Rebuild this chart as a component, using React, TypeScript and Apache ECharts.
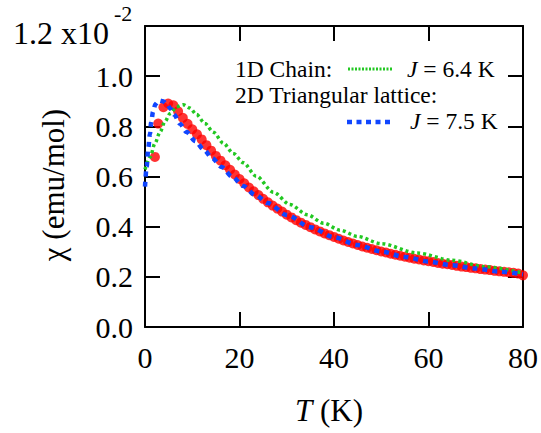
import React, { useEffect, useRef } from "react";
import * as echarts from "echarts";

// Axis ticks
const xTicks = [0, 20, 40, 60, 80];
const yTicks = [0, 0.2, 0.4, 0.6, 0.8, 1.0, 1.2];

// Experimental data (red dots): T (K), chi (x10^-2 emu/mol)
const expT = [2.1, 2.8, 3.9, 4.9, 6, 7, 8, 9, 10, 11, 12, 13, 14, 15, 16, 17, 18, 19, 20,
  21, 22, 23, 24, 25, 26, 27, 28, 29, 30, 31, 32, 33, 34, 35, 36, 37, 38, 39, 40,
  41, 42, 43, 44, 45, 46, 47, 48, 49, 50, 51, 52, 53, 54, 55, 56, 57, 58, 59, 60,
  61, 62, 63, 64, 65, 66, 67, 68, 69, 70, 71, 72, 73, 74, 75, 76, 77, 78, 79, 80];
const expChi = [0.678, 0.811, 0.876, 0.891, 0.884, 0.86, 0.834, 0.81, 0.788, 0.768, 0.748, 0.725, 0.703, 0.682, 0.663, 0.645, 0.627, 0.608, 0.59,
  0.573, 0.556, 0.541, 0.526, 0.511, 0.497, 0.484, 0.472, 0.46, 0.448, 0.437, 0.426, 0.416, 0.407, 0.398, 0.389, 0.381, 0.373, 0.366, 0.359,
  0.352, 0.345, 0.339, 0.333, 0.327, 0.321, 0.316, 0.311, 0.306, 0.301, 0.297, 0.292, 0.288, 0.284, 0.28, 0.276, 0.272, 0.269, 0.265, 0.262,
  0.259, 0.255, 0.252, 0.25, 0.247, 0.244, 0.241, 0.239, 0.236, 0.234, 0.231, 0.229, 0.227, 0.224, 0.222, 0.22, 0.218, 0.216, 0.213, 0.206];

// 1D chain model, J = 6.4 K (green dotted)
const chainT = [0, 1.1, 2.1, 3.2, 4.2, 5.3, 6.7, 8.1, 9.5, 10.9, 12.7, 14.5, 16.6, 18.7, 20.8, 23.5, 27.2, 30.7, 34.3, 37.8, 41.3, 45, 50, 57.6, 65, 72, 80];
const chainChi = [0.628, 0.678, 0.732, 0.778, 0.818, 0.851, 0.878, 0.886, 0.873, 0.847, 0.811, 0.776, 0.732, 0.692, 0.655, 0.602, 0.537, 0.488, 0.448, 0.414, 0.386, 0.361, 0.332, 0.295, 0.266, 0.24, 0.215];

// 2D triangular lattice model, J = 7.5 K (blue dashed)
const triT = [0, 0.35, 0.7, 1.05, 1.3, 1.7, 2.2, 3.0, 3.8, 4.6, 5.4, 6.2, 7.4, 8.8, 10.6, 12.4, 14.2, 16.2, 18.4, 20.8, 23.3, 26, 30, 35, 40, 45, 50, 55, 60, 65, 70, 75, 80];
const triChi = [0.56, 0.64, 0.715, 0.77, 0.815, 0.858, 0.888, 0.903, 0.9, 0.89, 0.87, 0.846, 0.81, 0.777, 0.742, 0.708, 0.674, 0.638, 0.6, 0.562, 0.527, 0.494, 0.447, 0.398, 0.358, 0.327, 0.301, 0.279, 0.261, 0.246, 0.233, 0.221, 0.21];

const SERIF = "Liberation Serif";
const RED = "#ff0000";
const GREEN = "#22c822";
const BLUE = "#1046ff";

export default function App() {
  const ref = useRef<HTMLDivElement>(null);
  useEffect(() => {
    document.body.style.margin = "0";
    const chart = echarts.init(ref.current!, null, { renderer: "svg" });
    const axisLine = { show: true, onZero: false, lineStyle: { color: "#000", width: 2 } };
    const tick = { show: true, inside: true, length: 15, lineStyle: { color: "#000", width: 2 } };
    const xMin = xTicks[0], xMax = xTicks[xTicks.length - 1];
    const yMin = yTicks[0], yMax = yTicks[yTicks.length - 1];
    const txt = (size: number, extra: any = {}) => ({ fontFamily: SERIF, fontSize: size, fill: "#000", ...extra });
    const option: any = {
      animation: false,
      grid: { left: 145, right: 18, top: 26, bottom: 106, containLabel: false, outerBoundsMode: "none" },
      xAxis: [
        {
          type: "value", min: xMin, max: xMax, interval: 20, position: "bottom",
          axisLine, axisTick: tick, splitLine: { show: false },
          axisLabel: { color: "#000", fontFamily: SERIF, fontSize: 30, margin: 15 },
        },
        {
          type: "value", min: xMin, max: xMax, interval: 20, position: "top",
          axisLine, axisTick: tick, splitLine: { show: false }, axisLabel: { show: false },
        },
      ],
      yAxis: [
        {
          type: "value", min: yMin, max: yMax, interval: 0.2, position: "left",
          axisLine, axisTick: tick, splitLine: { show: false },
          axisLabel: {
            color: "#000", fontFamily: SERIF, fontSize: 30, margin: 12,
            formatter: (v: number) => (v > 1.15 ? "" : v.toFixed(1)),
          },
        },
        {
          type: "value", min: yMin, max: yMax, interval: 0.2, position: "right",
          axisLine, axisTick: tick, splitLine: { show: false }, axisLabel: { show: false },
        },
      ],
      series: [
        {
          type: "scatter", name: "exp",
          data: expT.map((t, i) => [t, expChi[i]]),
          symbol: "circle", symbolSize: 10,
          itemStyle: { color: RED }, z: 2,
        },
        {
          type: "line", name: "1D chain",
          data: chainT.map((t, i) => [t, chainChi[i]]),
          showSymbol: false, smooth: 0.3, smoothMonotone: "x",
          lineStyle: { color: GREEN, width: 3.5, type: [3, 3] }, z: 3,
        },
        {
          type: "line", name: "2D triangular",
          data: triT.map((t, i) => [t, triChi[i]]),
          showSymbol: false, smooth: 0.3, smoothMonotone: "x",
          lineStyle: { color: BLUE, width: 4.5, type: [5, 5] }, z: 4,
        },
      ],
      graphic: [
        { type: "text", x: 13, y: 33, style: txt(32, { text: "1.2 x10", verticalAlign: "middle" }) },
        { type: "text", x: 114, y: 13, style: txt(22, { text: "-2", verticalAlign: "middle" }) },
        {
          type: "text", x: 53, y: 185, rotation: Math.PI / 2,
          style: txt(31, { text: "χ (emu/mol)", align: "center", verticalAlign: "middle" }),
        },
        {
          type: "text", x: 329, y: 410,
          style: txt(31, {
            text: "{i|T} (K)", align: "center", verticalAlign: "middle",
            rich: { i: { fontFamily: SERIF, fontStyle: "italic", fontSize: 31 } },
          }),
        },
        { type: "text", x: 235, y: 69, style: txt(23.5, { text: "1D Chain:", verticalAlign: "middle" }) },
        { type: "line", shape: { x1: 348, y1: 69, x2: 393, y2: 69 }, style: { stroke: GREEN, lineWidth: 3, lineDash: [2, 1.5] } },
        {
          type: "text", x: 407, y: 69,
          style: txt(23.5, {
            text: "{i|J} = 6.4 K", verticalAlign: "middle",
            rich: { i: { fontFamily: SERIF, fontStyle: "italic", fontSize: 23.5 } },
          }),
        },
        { type: "text", x: 235, y: 95, style: txt(23.5, { text: "2D Triangular lattice:", verticalAlign: "middle" }) },
        { type: "line", shape: { x1: 347, y1: 122, x2: 391, y2: 122 }, style: { stroke: BLUE, lineWidth: 4.5, lineDash: [5, 4.5] } },
        {
          type: "text", x: 410, y: 121,
          style: txt(23.5, {
            text: "{i|J} = 7.5 K", verticalAlign: "middle",
            rich: { i: { fontFamily: SERIF, fontStyle: "italic", fontSize: 23.5 } },
          }),
        },
      ],
    };
    chart.setOption(option);
    return () => chart.dispose();
  }, []);
  return <div ref={ref} style={{ width: 541, height: 433 }} />;
}
